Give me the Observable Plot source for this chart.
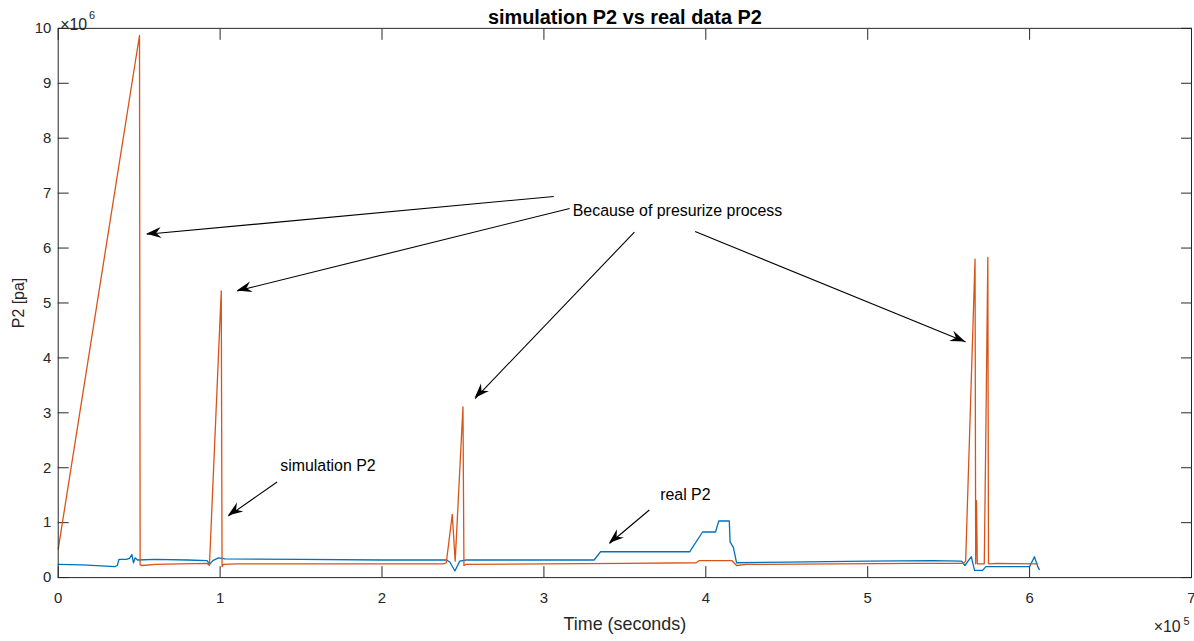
<!DOCTYPE html>
<html><head><meta charset="utf-8">
<script src="https://cdn.jsdelivr.net/npm/d3@7"></script>
<script src="https://cdn.jsdelivr.net/npm/@observablehq/plot@0.6"></script>
<style>
html,body{margin:0;padding:0;background:#fff;overflow:hidden;}
</style></head><body><div id="chart"></div>
<script>
// Time in units of 1e5 s, pressure in units of 1e6 Pa (as on the axes)
const simT = [0, 0.502, 0.506, 0.52, 0.6, 0.75, 0.92, 0.934, 1.007, 1.012, 1.02, 1.1, 1.5, 2.0, 2.38, 2.397, 2.434, 2.452, 2.500, 2.506, 2.52, 3.0, 3.5, 3.94, 3.96, 4.16, 4.19, 4.25, 4.8, 5.3, 5.59, 5.605, 5.663, 5.667, 5.672, 5.677, 5.72, 5.728, 5.742, 5.746, 5.8, 6.05];
const simP = [0.52, 9.87, 0.23, 0.22, 0.24, 0.25, 0.26, 0.22, 5.22, 0.2, 0.24, 0.25, 0.25, 0.25, 0.25, 0.27, 1.15, 0.3, 3.11, 0.22, 0.24, 0.25, 0.26, 0.27, 0.31, 0.31, 0.22, 0.24, 0.25, 0.26, 0.26, 0.3, 5.80, 0.25, 1.4, 0.25, 0.25, 2.2, 5.83, 0.25, 0.26, 0.25];
const realT = [0, 0.15, 0.35, 0.365, 0.375, 0.42, 0.44, 0.455, 0.465, 0.475, 0.49, 0.6, 0.8, 0.92, 0.935, 0.955, 0.99, 1.03, 1.5, 2.0, 2.4, 2.42, 2.45, 2.48, 2.52, 3.0, 3.31, 3.35, 3.90, 3.98, 4.06, 4.08, 4.145, 4.15, 4.17, 4.19, 4.5, 5.0, 5.4, 5.58, 5.60, 5.64, 5.66, 5.71, 5.73, 6.0, 6.03, 6.05, 6.06];
const realP = [0.24, 0.23, 0.2, 0.22, 0.33, 0.33, 0.35, 0.42, 0.27, 0.36, 0.32, 0.33, 0.32, 0.31, 0.24, 0.31, 0.36, 0.34, 0.33, 0.32, 0.32, 0.28, 0.12, 0.3, 0.32, 0.32, 0.32, 0.47, 0.47, 0.83, 0.83, 1.03, 1.03, 0.65, 0.55, 0.27, 0.28, 0.3, 0.31, 0.3, 0.22, 0.38, 0.13, 0.13, 0.2, 0.2, 0.38, 0.2, 0.15];

const xTicks = [0, 1, 2, 3, 4, 5, 6, 7];
const yTicks = [0, 1, 2, 3, 4, 5, 6, 7, 8, 9, 10];

const noteText = ["Because of presurize process", "simulation P2", "real P2"];
const noteX = [3.178, 1.371, 3.718];
const noteY = [6.67, 2.03, 1.50];

const arrX1 = [3.061, 3.159, 3.559, 3.934, 1.352, 3.651];
const arrY1 = [6.94, 6.72, 6.29, 6.30, 1.74, 1.23];
const arrX2 = [0.547, 1.106, 2.575, 5.605, 1.051, 3.405];
const arrY2 = [6.25, 5.22, 3.26, 4.29, 1.12, 0.62];

const titleText = "simulation P2 vs real data P2";
const xLabel = "Time (seconds)";
const yLabel = "P2 [pa]";

const sim = simT.map((t, i) => ({t, p: simP[i]}));
const real = realT.map((t, i) => ({t, p: realP[i]}));
const notes = noteText.map((s, i) => ({s, x: noteX[i], y: noteY[i]}));
const arrows = arrX1.map((x1, i) => ({x1, y1: arrY1[i], x2: arrX2[i], y2: arrY2[i]}));

const FONT = "'Liberation Sans', Arial, Helvetica, sans-serif";
const AX = "#262626";

function heads(index, scales) {
  const g = d3.create("svg:g");
  for (const d of arrows) {
    const x1 = scales.x(d.x1), y1 = scales.y(d.y1);
    const x2 = scales.x(d.x2), y2 = scales.y(d.y2);
    const a = Math.atan2(y2 - y1, x2 - x1);
    const L = 15, W = 5.5, N = 10;
    const pts = [[0, 0], [-L, W], [-N, 0], [-L, -W]].map(([u, v]) =>
      [x2 + u * Math.cos(a) - v * Math.sin(a), y2 + u * Math.sin(a) + v * Math.cos(a)]);
    g.append("path").attr("d", "M" + pts.map(p => p.join(",")).join("L") + "Z").attr("fill", "black");
  }
  return g.node();
}

const chart = Plot.plot({
  width: 1200,
  height: 641,
  marginLeft: 58,
  marginRight: 3,
  marginTop: 28,
  marginBottom: 61,
  style: {fontFamily: FONT, fontSize: "15px", background: "#fff", overflow: "visible"},
  x: {domain: [0, 7]},
  y: {domain: [0, 10]},
  marks: [
    Plot.axisX(xTicks, {anchor: "bottom", tickSize: -11, tickPadding: 26, tickFormat: d => String(d), label: null, color: AX, fontSize: 15}),
    Plot.axisX(xTicks, {anchor: "top", tickSize: -11, tickFormat: () => "", label: null, color: AX}),
    Plot.axisY(yTicks, {anchor: "left", tickSize: -11, tickPadding: 18, tickFormat: d => String(d), label: null, color: AX, fontSize: 15}),
    Plot.axisY(yTicks, {anchor: "right", tickSize: -11, tickFormat: () => "", label: null, color: AX}),
    Plot.line(real, {x: "t", y: "p", stroke: "#0072BD", strokeWidth: 1.3}),
    Plot.line(sim, {x: "t", y: "p", stroke: "#D95319", strokeWidth: 1.3}),
    Plot.frame({stroke: AX, strokeWidth: 1}),
    Plot.link(arrows, {x1: "x1", y1: "y1", x2: "x2", y2: "y2", stroke: "black", strokeWidth: 1.1}),
    heads,
    Plot.text(notes, {x: "x", y: "y", text: "s", textAnchor: "start", fontSize: 16, fill: "black"}),
    Plot.text([titleText], {text: d => d, frameAnchor: "top", dy: -19, fontWeight: "bold", fontSize: 20, fill: "black"}),
    Plot.text([xLabel], {text: d => d, frameAnchor: "bottom", dy: 53, fontSize: 18, fill: AX}),
    Plot.text([yLabel], {text: d => d, frameAnchor: "left", textAnchor: "middle", dx: -40, rotate: -90, fontSize: 16, fill: AX}),
    Plot.text(["×10"], {text: d => d, frameAnchor: "top-left", dx: 2, dy: -10, textAnchor: "start", fontSize: 16, fill: AX}),
    Plot.text(["6"], {text: d => d, frameAnchor: "top-left", dx: 31, dy: -17, textAnchor: "start", fontSize: 11, fill: AX}),
    Plot.text(["×10"], {text: d => d, frameAnchor: "bottom-right", dx: -38, dy: 55, textAnchor: "start", fontSize: 16, fill: AX}),
    Plot.text(["5"], {text: d => d, frameAnchor: "bottom-right", dx: -8, dy: 48, textAnchor: "start", fontSize: 11, fill: AX})
  ]
});
document.getElementById("chart").appendChild(chart);
</script>
</body></html>
